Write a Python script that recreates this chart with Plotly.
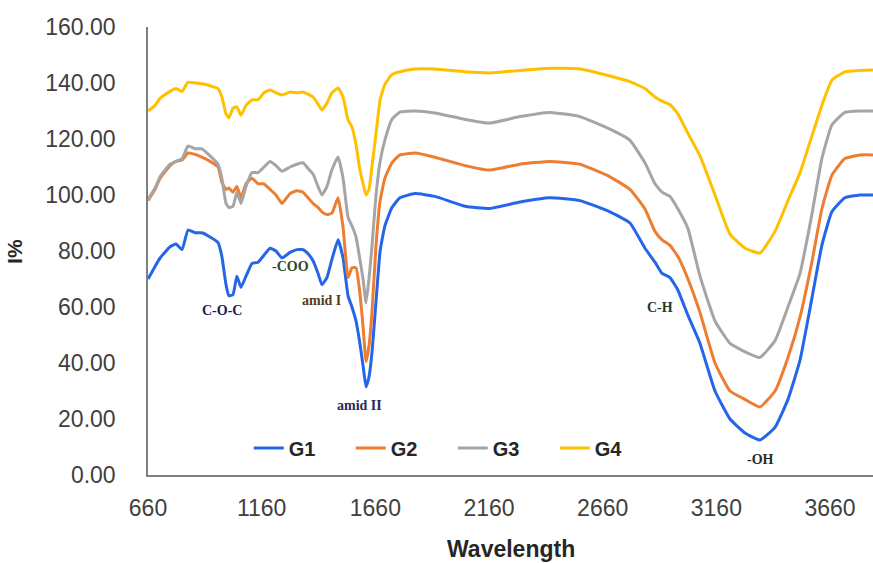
import plotly.graph_objects as go

wavenumber = [660, 691, 713, 757, 783, 810, 836, 867, 897, 933, 968, 985, 1003, 1016, 1034, 1051, 1069, 1091,
              1117, 1144, 1170, 1197, 1223, 1249, 1285, 1315, 1342, 1364, 1386, 1408, 1425, 1447, 1469, 1496,
              1518, 1540, 1557, 1575, 1592, 1606, 1619, 1632, 1645, 1663, 1681, 1702, 1733, 1768, 1834, 1922,
              2054, 2164, 2296, 2428, 2560, 2692, 2780, 2846, 2890, 2921, 2956, 2991, 3035, 3088, 3154, 3220,
              3286, 3352, 3418, 3475, 3528, 3580, 3624, 3668, 3725, 3791, 3849]

g1 = [70, 74.5, 77.5, 81.5, 82.5, 80.5, 87.5, 86.5, 86.5, 85, 83, 78, 68, 64, 64.5, 71, 67, 71,
      75.5, 76, 78.5, 81, 80, 77.5, 79.5, 80.5, 80.5, 79, 76.5, 72, 68, 70.5, 77, 84,
      77.5, 64, 60, 55, 47, 39, 31.5, 35, 43.5, 62, 80, 89, 95.5, 99, 100.5, 99.5,
      96, 95.2, 97.5, 99, 98, 94, 90, 81, 76, 72, 70.5, 66, 57, 47, 30, 20,
      15, 12.5, 17, 27, 41, 63, 82, 94, 99, 100, 100]

g2 = [98, 102, 106, 110.5, 112, 112.5, 115, 114.5, 113.5, 112, 110, 104.5, 102, 102.5, 101, 103, 99, 104,
      106, 104, 104, 102, 100, 97, 100.5, 101.5, 101, 99, 97, 95.5, 94, 93, 93.5, 99,
      88.5, 70.5, 74, 74, 65, 53, 40.5, 46, 58, 82, 98, 106, 111.5, 114.3, 115, 113.5,
      110.5, 108.9, 111, 112, 111, 106.5, 102, 95, 87, 84, 82, 78, 70, 58, 40, 30,
      27, 24.3, 30, 42, 56.4, 76, 95, 107, 113, 114.3, 114.3]

g3 = [98.5, 102.5, 106.5, 111, 112, 113, 117.5, 116.5, 116.5, 114, 111, 106, 97, 95.5, 96, 101, 97, 103,
      108, 108, 110, 112, 110.5, 108.5, 110, 111, 111.5, 109.5, 107.5, 103, 100, 103, 109, 113.6,
      106, 92, 89, 85, 77, 70, 61.5, 70, 81.5, 100, 112, 119.6, 127, 129.6, 130, 129.3,
      127, 125.7, 128, 129.5, 128, 123.5, 119.5, 111.5, 104, 101, 99.5, 95, 88, 71, 55, 47,
      44, 42, 48, 60, 72, 93, 113, 125, 129.5, 130, 130]

g4 = [130, 132, 134.5, 137, 138, 137, 140.3, 140, 139.7, 139, 138, 135, 129, 127.5, 131, 131.5, 128.5, 132,
      134, 134, 136.5, 137.5, 136.5, 135.7, 136.8, 136.5, 136.8, 136, 135, 132.5, 130.4, 132.8, 136.5, 138.2,
      135, 126.8, 124.3, 118, 109, 104, 100, 102, 110, 122, 134, 139.5, 143, 144, 145, 145,
      144, 143.6, 144.5, 145.3, 145, 142.5, 140.5, 138, 135, 133.5, 132.3, 129, 122, 114, 100, 86,
      81, 79.3, 87, 98, 108, 121, 132, 141, 144, 144.5, 144.6]

series_names = ["G1", "G2", "G3", "G4"]
series_values = [g1, g2, g3, g4]
series_colors = ["#2566e8", "#ED7D31", "#A5A5A5", "#FFC000"]

x_ticks = [660, 1160, 1660, 2160, 2660, 3160, 3660]
y_ticks = [0, 20, 40, 60, 80, 100, 120, 140, 160]

peak_labels = ["C-O-C", "-COO", "amid I", "amid II", "C-H", "-OH"]
peak_x = [985, 1285, 1425, 1592, 2912, 3352]
peak_y = [58.9, 74.6, 62.5, 25, 60, 5.4]
peak_colors = ["#1d1d4a", "#2d4a2a", "#5a3a1a", "#2a2a5a", "#1e3a2a", "#2a2a2a"]

fig = go.Figure()
for name, vals, col in zip(series_names, series_values, series_colors):
    fig.add_trace(go.Scatter(x=wavenumber, y=vals, mode="lines", name=name,
                             line=dict(color=col, width=3, shape="spline", smoothing=0.4)))

for lab, px, py, pc in zip(peak_labels, peak_x, peak_y, peak_colors):
    fig.add_annotation(x=px, y=py, xref="x", yref="y", text="<b>" + lab + "</b>", showarrow=False,
                       font=dict(family="Liberation Serif", size=14, color=pc))

fig.add_annotation(x=0.5, y=-0.165, xref="paper", yref="paper", text="<b>Wavelength</b>", showarrow=False,
                   font=dict(family="Liberation Sans", size=23, color="#262626"), xanchor="center", yanchor="middle")
fig.add_annotation(x=-0.185, y=0.5, xref="paper", yref="paper", text="<b>I%</b>", showarrow=False,
                   textangle=-90, font=dict(family="Liberation Sans", size=21, color="#262626"),
                   xanchor="center", yanchor="middle")

fig.update_layout(
    width=873, height=563,
    margin=dict(l=148, r=0, t=27, b=88),
    paper_bgcolor="white", plot_bgcolor="white",
    font=dict(family="Liberation Sans", color="#404040"),
    showlegend=True,
    legend=dict(orientation="h", x=0.139, y=0.06, xanchor="left", yanchor="middle",
                bgcolor="rgba(0,0,0,0)", entrywidth=57, entrywidthmode="pixels",
                font=dict(family="Liberation Sans", size=20, color="#262626", weight="bold"),
                itemwidth=30),
    xaxis=dict(range=[660, 3849], tickvals=x_ticks, ticktext=[str(v) for v in x_ticks],
               showgrid=False, zeroline=False, showline=True, linecolor="#7f7f7f", linewidth=1.5,
               ticks="", tickfont=dict(size=23, color="#404040"), ticklabelstandoff=12),
    yaxis=dict(range=[0, 160], tickvals=y_ticks, ticktext=["%.2f" % v for v in y_ticks],
               showgrid=False, zeroline=False, showline=True, linecolor="#7f7f7f", linewidth=1.5,
               ticks="", tickfont=dict(size=23, color="#404040"), ticklabelstandoff=26),
)

fig.write_html("out.html", config={"displayModeBar": False},
               post_script="document.body.style.margin='0';document.body.style.overflow='hidden';")
